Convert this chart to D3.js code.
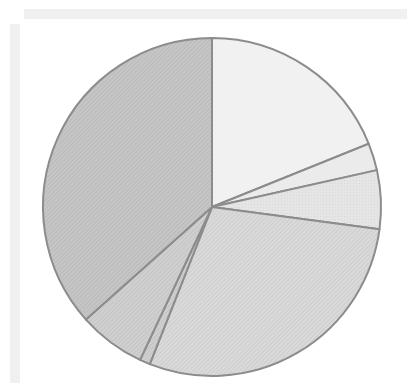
<!DOCTYPE html>
<html>
<head>
<meta charset="utf-8">
<script src="https://cdn.jsdelivr.net/npm/d3@7"></script>
<style>
  html, body { margin: 0; padding: 0; background: #ffffff; }
  svg { display: block; }
</style>
</head>
<body>
<svg id="chart" width="407" height="383"></svg>
<script>
// Share of each category (percent), drawn clockwise from 12 o'clock
const categories = ["A", "B", "C", "D", "E", "F", "G"];
const shares = [18.9, 2.6, 5.6, 28.9, 1.0, 6.4, 36.6];
const fills = ["#f1f1f1", "#ebebeb", "#e5e5e5", "#dadada", "#cfcfcf", "#d0d0d0", "#c6c6c6"];
const textures = ["none", "none", "dots", "hatch", "hatch", "hatch", "hatch"];

const svg = d3.select("#chart");
const W = 407, H = 383;

// frame backdrop
svg.append("rect").attr("x", 0).attr("y", 0).attr("width", W).attr("height", H).attr("fill", "#ffffff");
svg.append("rect").attr("x", 24).attr("y", 9).attr("width", W - 24).attr("height", 10).attr("fill", "#f0f0f0");
svg.append("rect").attr("x", 10).attr("y", 24).attr("width", 10).attr("height", H - 24).attr("fill", "#f0f0f0");

// fine textures laid over the flat fills
const defs = svg.append("defs");
categories.forEach((c, i) => {
  const p = defs.append("pattern")
    .attr("id", "pat" + i)
    .attr("patternUnits", "userSpaceOnUse")
    .attr("width", 3).attr("height", 3);
  p.append("rect").attr("width", 3).attr("height", 3).attr("fill", fills[i]);
  if (textures[i] === "hatch") {
    p.attr("patternTransform", "rotate(45)");
    p.append("rect").attr("x", 0).attr("y", 0).attr("width", 1).attr("height", 3)
      .attr("fill", "#000").attr("opacity", 0.06);
  } else if (textures[i] === "dots") {
    p.append("rect").attr("x", 0).attr("y", 0).attr("width", 1).attr("height", 1)
      .attr("fill", "#000").attr("opacity", 0.05);
  }
});

const cx = 212, cy = 207, r = 169;
const pie = d3.pie().sort(null).value(d => d)(shares);
const arc = d3.arc().innerRadius(0).outerRadius(r);

const g = svg.append("g").attr("transform", `translate(${cx},${cy})`);
g.selectAll("path.slice")
  .data(pie)
  .join("path")
  .attr("class", "slice")
  .attr("d", arc)
  .attr("fill", (d, i) => `url(#pat${i})`)
  .attr("stroke", "#8c8c8c")
  .attr("stroke-width", 2)
  .attr("stroke-linejoin", "round");
</script>
</body>
</html>
